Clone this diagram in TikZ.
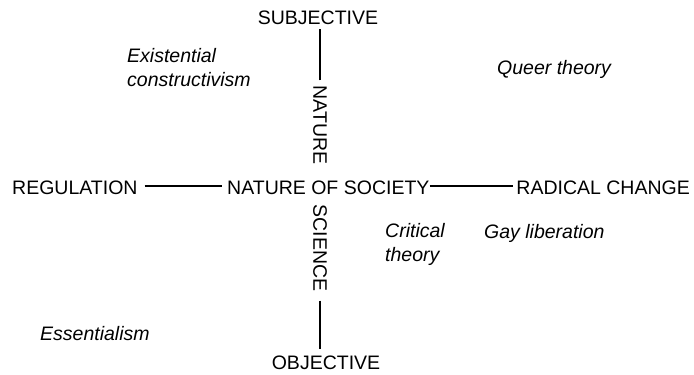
\documentclass[tikz,border=0pt]{standalone}
\usepackage{fontspec}
\setmainfont{Liberation Sans}
\begin{document}
\begin{tikzpicture}[x=1pt,y=-1pt,
  caps/.style={font=\fontsize{19.5}{23}\selectfont, inner sep=2pt},
  ital/.style={font=\fontsize{19.5}{23.5}\selectfont\itshape, inner sep=0pt, align=left, anchor=base west},
  axis/.style={line width=1.7pt, black}]
\useasboundingbox (0,0) rectangle (694,375);
% main labels
\node[caps, anchor=base, inner sep=5pt] (subj) at (318,24) {SUBJECTIVE};
\node[caps, anchor=base, inner sep=6pt] (obj) at (326,369) {OBJECTIVE};
\node[caps, anchor=base west, inner sep=0pt] (reg) at (12,194) {REGULATION};
\node[caps, anchor=base west, inner sep=0pt] (nos) at (227,194) {NATURE OF SOCIETY};
\node[caps, anchor=base east, inner sep=0pt] (rad) at (690,194) {RADICAL CHANGE};
\node[caps, rotate=-90, inner sep=5pt] (nat) at (320,125) {NATURE};
\node[caps, rotate=-90, inner sep=9pt] (sci) at (320,248) {SCIENCE};
% axes
\draw[axis] ([xshift=7pt,yshift=1pt]reg.east) -- ([xshift=-5pt,yshift=1pt]nos.west);
\draw[axis] ([yshift=1pt]nos.east) -- ([xshift=-3pt,yshift=1pt]rad.west);
\draw[axis] (nat.west) -- (nat.west |- subj.south);
\draw[axis] (sci.east) -- (sci.east |- obj.north);
% italic labels
\node[ital] (exist) at (127,86) {Existential\\constructivism};
\node[ital] (queer) at (497,74) {Queer theory};
\node[ital] (crit) at (385,261) {Critical\\theory};
\node[ital] (gay) at (484,238) {Gay liberation};
\node[ital] (ess) at (40,340) {Essentialism};
\end{tikzpicture}
\end{document}
